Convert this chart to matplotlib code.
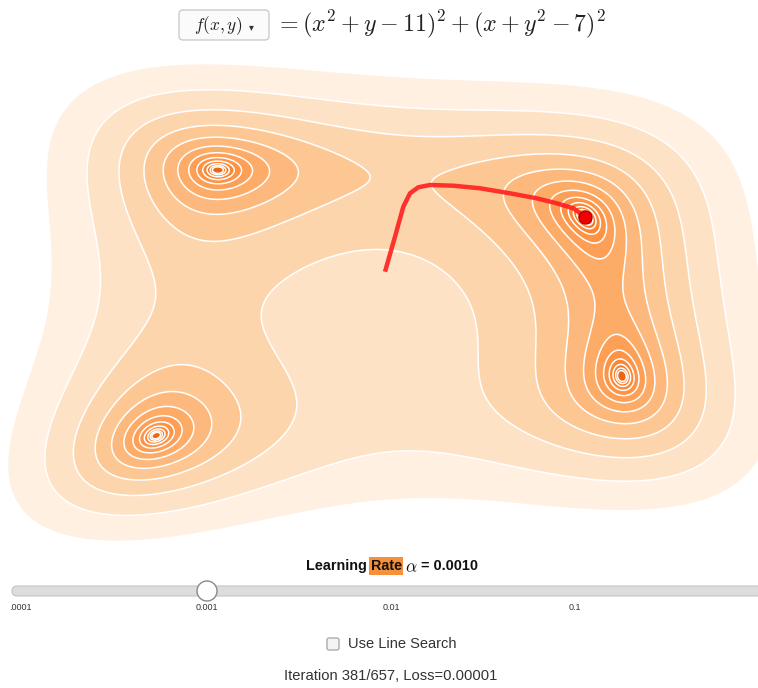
import numpy as np
import matplotlib
matplotlib.use("Agg")
import matplotlib.pyplot as plt
from matplotlib.patches import FancyBboxPatch, Circle

W, H = 758, 688

# ---------------- data ----------------
level_exponents = list(range(-2, 10))          # contour thresholds 2^-2 ... 2^9
path_x = [-0.162, -0.004, 0.127, 0.233, 0.364, 0.549, 0.918, 1.340, 1.814,
          2.236, 2.553, 2.815, 3.0]
path_y = [0.676, 1.522, 2.246, 2.570, 2.715, 2.771, 2.754, 2.691, 2.570,
          2.449, 2.329, 2.208, 2.005]
slider_ticks = [0.0001, 0.001, 0.01, 0.1]
slider_labels = [".0001", "0.001", "0.01", "0.1"]
learning_rate = 0.001
iteration, total_iter, loss = 381, 657, 0.00001

plt.rcParams["mathtext.fontset"] = "cm"

fig = plt.figure(figsize=(W / 100, H / 100), dpi=100)
fig.patch.set_facecolor("white")

# --------------- contour chart ---------------
sx, x0 = 63.25, 395.25
sy, y0 = 41.4, 299.7
ax = fig.add_axes([0, 0, 1, 1])
ax.set_xlim(-x0 / sx, (W - x0) / sx)
ax.set_ylim((y0 - H) / sy, y0 / sy)
ax.axis("off")

gx = np.linspace(-6.4, 6.0, 700)
gy = np.linspace(-7.0, 7.0, 700)
X, Y = np.meshgrid(gx, gy)
Z = (X ** 2 + Y - 11) ** 2 + (X + Y ** 2 - 7) ** 2

thresholds = [2.0 ** e for e in level_exponents]
levels = [0.0] + thresholds
cmap = plt.get_cmap("Oranges")
n = len(thresholds)
colors = [cmap(0.04 + 0.6 * ((level_exponents[-1] - e) / (n - 1)) ** 0.7)
          for e in level_exponents]
ax.contourf(X, Y, Z, levels=levels, colors=colors, antialiased=True)
ax.contour(X, Y, Z, levels=thresholds[:-1], colors="white", linewidths=1.1)

ax.plot(path_x, path_y, color="#ff1f1f", lw=3.2, alpha=0.9,
        solid_capstyle="butt", solid_joinstyle="round", zorder=5)
ax.plot([path_x[-1]], [path_y[-1]], "o", ms=9.5, color="#f00000",
        mec="#a00000", mew=0.8, zorder=6)

# --------------- UI overlay (pixel coordinates) ---------------
ui = fig.add_axes([0, 0, 1, 1])
ui.set_xlim(0, W)
ui.set_ylim(H, 0)
ui.axis("off")
ui.patch.set_alpha(0)

renderer = fig.canvas.get_renderer()


def width_px(t):
    return t.get_window_extent(renderer=renderer).width


# header: dropdown button
ui.add_patch(FancyBboxPatch((179, 10), 90, 30,
                            boxstyle="round,pad=0,rounding_size=4",
                            fc="#fbfbfb", ec="#cccccc", lw=1.0))
ui.text(218, 26, r"$f(x,y)$", fontsize=12.5, ha="center", va="center",
        color="#222222")
ui.text(251, 27, "\u25be", fontsize=7, ha="center", va="center",
        color="#333333", family="DejaVu Sans")
eq = ui.text(275, 24, r"$= (x^2 + y - 11)^2 + (x + y^2 - 7)^2$",
             fontsize=16, ha="left", va="center", color="#222222")
eq.set_fontsize(16 * 331 / width_px(eq))

# learning-rate title
fam = ["Liberation Sans", "DejaVu Sans"]
parts = [("Learning ", "bold", None),
         ("Rate", "bold", "#f7903a")]
tfs = 10.4
pieces = []
for s, w, bg in parts:
    t = ui.text(0, 566, s, fontsize=tfs, fontweight=w, family=fam,
                ha="left", va="center", color="#111111")
    if bg:
        t.set_bbox(dict(boxstyle="square,pad=0.12", fc=bg, ec="none"))
    pieces.append(t)
alpha_t = ui.text(0, 567, r"$\alpha$", fontsize=12.5, ha="left", va="center",
                  color="#111111")
pieces.append(alpha_t)
val_t = ui.text(0, 566, " = %.4f" % learning_rate, fontsize=tfs,
                fontweight="bold", family=fam, ha="left", va="center",
                color="#111111")
pieces.append(val_t)
gaps = [0, 0, 3, 0]
total = sum(width_px(p) for p in pieces) + sum(gaps)
xcur = 392 - total / 2
for p, g in zip(pieces, gaps):
    xcur += g
    p.set_x(xcur)
    xcur += width_px(p)


# slider
def slider_px(v):
    return 207 + (np.log10(v) + 3) * 184.0


ui.add_patch(FancyBboxPatch((12, 586), 800, 10,
                            boxstyle="round,pad=0,rounding_size=5",
                            fc="#dddddd", ec="#c4c4c4", lw=0.8, clip_on=False))
ui.add_patch(Circle((slider_px(learning_rate), 591), 10, fc="white",
                    ec="#8a8a8a", lw=1.0, zorder=5))
for v, lab in zip(slider_ticks, slider_labels):
    xp = slider_px(v)
    if lab.startswith("."):
        ui.text(9, 607, lab, fontsize=6.5, family=fam, ha="left", va="center",
                color="#333333")
    else:
        ui.text(xp, 607, lab, fontsize=6.5, family=fam, ha="center",
                va="center", color="#333333")

# checkbox
ui.add_patch(FancyBboxPatch((327, 638), 12, 12,
                            boxstyle="round,pad=0,rounding_size=2",
                            fc="#f4f4f4", ec="#9a9a9a", lw=0.8))
ui.text(348, 644, "Use Line Search", fontsize=10.5, family=fam, ha="left",
        va="center", color="#333333")

ui.text(391, 676, "Iteration %d/%d, Loss=%.5f" % (iteration, total_iter, loss),
        fontsize=10.6, family=fam, ha="center", va="center", color="#333333")

fig.savefig("out.png", dpi=100, facecolor="white")
